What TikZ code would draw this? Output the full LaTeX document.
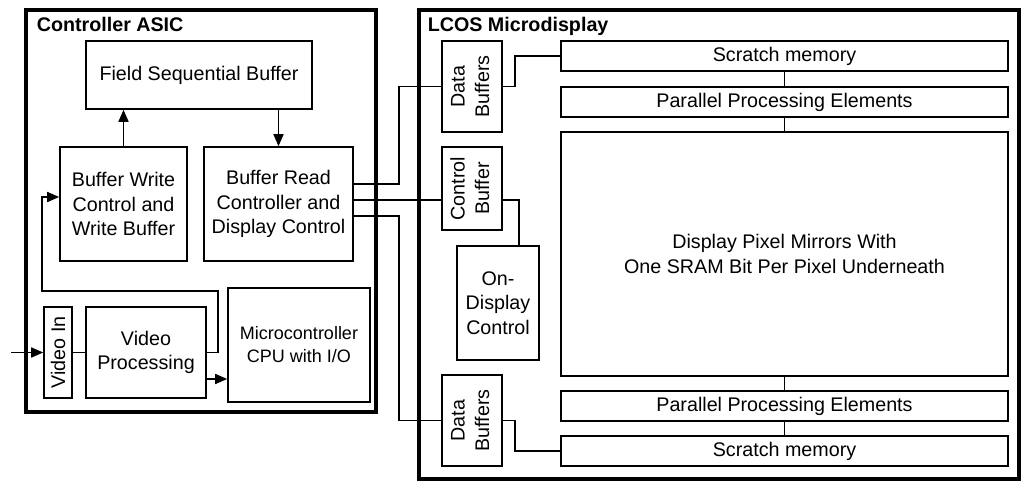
\documentclass[tikz,border=0pt]{standalone}
\usepackage{fontspec}
\setmainfont{Liberation Sans}
\usepackage{graphicx}
\usetikzlibrary{arrows.meta}

\begin{document}
\begin{tikzpicture}[x=1pt,y=-1pt,>={Triangle[length=12pt,width=10pt]},line width=1.6pt,
  block/.style={rectangle,draw,inner sep=0pt,align=center,font=\fontsize{19.7}{24.5}\selectfont},
  chip/.style={rectangle,draw,line width=3.4pt,inner sep=0pt},
  title/.style={anchor=base west,inner sep=0pt,font=\fontsize{19.7}{24.5}\selectfont\bfseries}]

  \useasboundingbox (0,0) rectangle (1024,481);

  % controller side
  \node[chip,minimum width=350pt,minimum height=402pt] (asic) at (201,211) {};
  \node[title] (asictitle) at (36,32) {Controller ASIC};
  \node[block,minimum width=226pt,minimum height=68pt] (fsb) at (199,75) {Field Sequential Buffer};
  \node[block,minimum width=127pt,minimum height=114pt] (bwc) at (123.5,204) {Buffer Write\\Control and\\Write Buffer};
  \node[block,minimum width=149pt,minimum height=114pt] (brc) at (278.5,204) {Buffer Read\\Controller and\\Display Control};
  \node[block,minimum width=28pt,minimum height=91pt] (vin) at (58,352.5) {\rotatebox{90}{Video In}};
  \node[block,minimum width=120pt,minimum height=91pt] (vproc) at (146,352.5) {Video\\Processing};
  \node[block,minimum width=142pt,minimum height=114pt,font=\fontsize{18}{23}\selectfont] (mcu) at (299,345) {Microcontroller\\CPU with I/O};

  % display side
  \node[chip,minimum width=600pt,minimum height=469pt] (lcos) at (719,244.5) {};
  \node[title] (lcostitle) at (427,32) {LCOS Microdisplay};
  \node[block,minimum width=60pt,minimum height=91pt] (dbtop) at (472,86.5) {\rotatebox{90}{\begin{tabular}{@{}c@{}}Data\\Buffers\end{tabular}}};
  \node[block,minimum width=60pt,minimum height=83pt] (cbuf) at (472,188.5) {\rotatebox{90}{\begin{tabular}{@{}c@{}}Control\\Buffer\end{tabular}}};
  \node[block,minimum width=82pt,minimum height=114pt] (odc) at (498,303) {On-\\Display\\Control};
  \node[block,minimum width=60pt,minimum height=91pt] (dbbot) at (472,420.5) {\rotatebox{90}{\begin{tabular}{@{}c@{}}Data\\Buffers\end{tabular}}};
  \node[block,minimum width=447pt,minimum height=30pt] (scrtop) at (784.5,56) {Scratch memory};
  \node[block,minimum width=447pt,minimum height=30pt] (ppetop) at (784.5,102) {Parallel Processing Elements};
  \node[block,minimum width=447pt,minimum height=244pt] (pix) at (784.5,254) {Display Pixel Mirrors With\\One SRAM Bit Per Pixel Underneath};
  \node[block,minimum width=447pt,minimum height=30pt] (ppebot) at (784.5,406) {Parallel Processing Elements};
  \node[block,minimum width=447pt,minimum height=30pt] (scrbot) at (784.5,451) {Scratch memory};

  \coordinate (vsrc) at (11,352.5);
  \coordinate (vpout) at ([yshift=-26.5pt]vproc.east);
  \coordinate (rd1) at ([yshift=20pt]brc.east);
  \coordinate (rd2) at ([yshift=4pt]brc.east);
  \coordinate (rd3) at ([yshift=-12pt]brc.east);
  \coordinate (cbout) at ([yshift=-11.5pt]cbuf.east);

  \draw[->] (bwc.north) -- (bwc.north |- fsb.south);
  \draw[->] (brc.north |- fsb.south) -- (brc.north);
  \draw[->] (vsrc) -- (vin.west);
  \draw (vin.east) -- (vproc.west);
  \draw[->] (vproc.east) -- ++(11,0) |- (42,291) |- ([yshift=7pt]bwc.west);
  \draw[->] (vpout) -- (vpout -| mcu.west);

  \draw (rd1) -- ++(45,0) |- (dbtop.west);
  \draw (rd2) -- (rd2 -| cbuf.west);
  \draw (rd3) -- ++(45,0) |- (dbbot.west);
  \draw (dbtop.east) -- ++(12,0) |- (scrtop.west);
  \draw (cbout) -| ([xshift=21pt]odc.north);
  \draw (dbbot.east) -- ++(12,0) |- (scrbot.west);

  \path
    (scrtop) edge (ppetop)
    (ppetop) edge (pix)
    (pix) edge (ppebot)
    (ppebot) edge (scrbot)
    ;

\end{tikzpicture}
\end{document}
